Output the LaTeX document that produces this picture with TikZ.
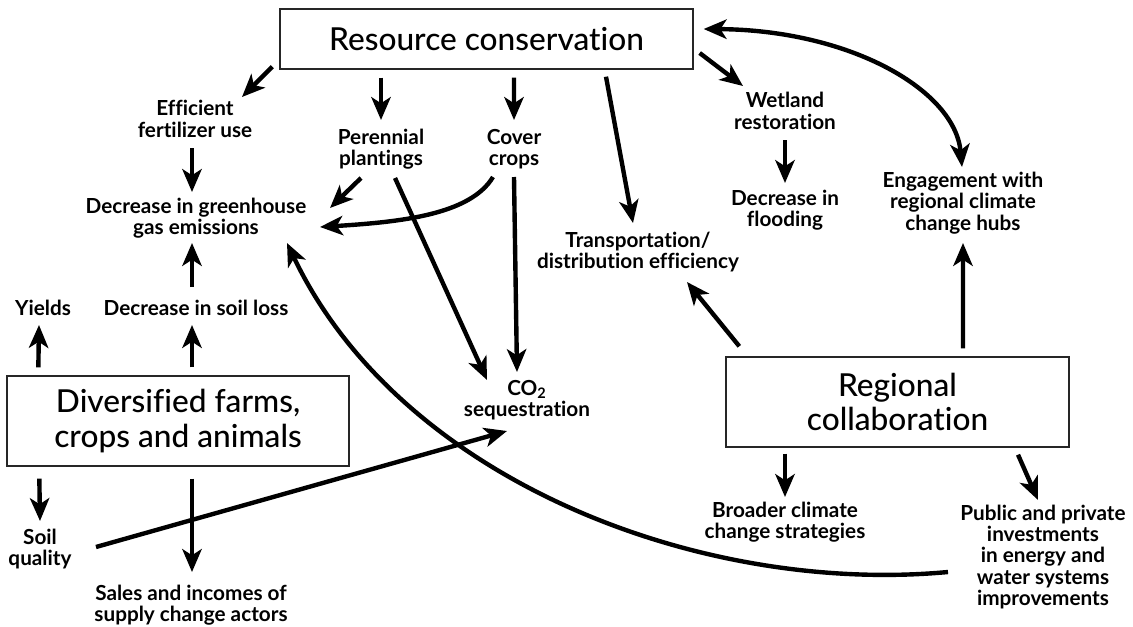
\documentclass[tikz,border=0pt]{standalone}
\usepackage{fontspec}
\setmainfont{Lato}[Ligatures=NoCommon]
\newfontfamily\labelsb{Lato}[Ligatures=NoCommon,UprightFont=* Bold]
\IfFontExistsTF{Lato Medium}{\newfontfamily\boxmd{Lato Medium}[Ligatures=NoCommon]}{\newcommand{\boxmd}{}}
\usetikzlibrary{arrows.meta}

\begin{document}
\begin{tikzpicture}[x=0.02cm,y=-0.02cm,>={Stealth[length=13pt,width=11pt,inset=3.5pt]},line width=2.5pt,
    main node/.style={draw=black!85,line width=0.8pt,align=center,inner sep=0pt,font=\boxmd\fontsize{18}{19.5}\selectfont},
    small node/.style={align=center,inner sep=0pt,font=\labelsb\fontsize{11.8}{12.2}\selectfont}]
  \useasboundingbox (0,0) rectangle (1133,626);

  % boxes
  \node[main node,minimum width=8.26cm,minimum height=1.2cm] (rc) at (486.5,39) {Resource conservation};
  \node[main node,minimum width=6.84cm,minimum height=1.8cm] (df) at (178,421) {Diversified farms,\\crops and animals};
  \node[main node,minimum width=6.86cm,minimum height=1.8cm] (reg) at (897.5,402) {Regional\\collaboration};

  % labels
  \node[small node] (eff) at (195,119) {Efficient\\fertilizer use};
  \node[small node] (ghg) at (196,218) {Decrease in greenhouse\\gas emissions};
  \node[small node] (per) at (381,149) {Perennial\\plantings};
  \node[small node] (cov) at (514,149) {Cover\\crops};
  \node[small node] (co2) at (527,400) {CO\textsubscript{2}\\sequestration};
  \node[small node] (trans) at (638,252) {Transportation/\\distribution efficiency};
  \node[small node] (wet) at (785,111) {Wetland\\restoration};
  \node[small node] (flood) at (785,210) {Decrease in\\flooding};
  \node[small node] (hubs) at (963,203) {Engagement with\\regional climate\\change hubs};
  \node[small node] (yields) at (43,308) {Yields};
  \node[small node] (soil) at (196,308) {Decrease in soil loss};
  \node[small node] (squal) at (40,549) {Soil\\quality};
  \node[small node] (sales) at (191,605) {Sales and incomes of\\supply change actors};
  \node[small node] (broad) at (785,522) {Broader climate\\change strategies};
  \node[small node] (invest) at (1043,557) {Public and private\\investments\\in energy and\\water systems\\improvements};

  % resource conservation
  \path[->] ([shift={(-7,-3)}]rc.south west) edge ([shift={(47,-22)}]eff.center);
  \path[->] ([shift={(-105.5,8)}]rc.south) edge ([shift={(0,-29)}]per.center);
  \path[->] ([shift={(27.5,8)}]rc.south) edge ([shift={(0,-29)}]cov.center);
  \path[->] ([shift={(119.5,7)}]rc.south) edge ([shift={(-5,-29)}]trans.center);
  \path[->] ([shift={(6,14)}]rc.east) edge ([shift={(-42,-25)}]wet.center);
  \draw[<->] ([shift={(10,-10)}]rc.east) .. controls (850,30) and (955,90) .. ([shift={(-1,-36)}]hubs.center);

  \path[->] ([shift={(-3,29)}]eff.center) edge ([shift={(-4,-26)}]ghg.center);
  \path[->] ([shift={(-20,29)}]per.center) edge ([shift={(134,-10)}]ghg.center);
  \path[->] ([shift={(14,29)}]per.center) edge ([shift={(-40,-20)}]co2.center);
  \path[->] ([shift={(0,28)}]cov.center) edge ([shift={(-10,-28)}]co2.center);
  \draw[->] ([shift={(-21,28)}]cov.center) .. controls (470,215) and (400,222) .. ([shift={(124,9)}]ghg.center);
  \path[->] ([shift={(0,29)}]wet.center) edge ([shift={(0,-27)}]flood.center);

  % diversified farms
  \path[->] ([shift={(32,-8)}]df.north west) edge ([shift={(-4,17)}]yields.center);
  \path[->] ([shift={(14,-8)}]df.north) edge ([shift={(-4,17)}]soil.center);
  \path[->] ([shift={(-4,-21)}]soil.center) edge ([shift={(-4,25)}]ghg.center);
  \path[->] ([shift={(33,12)}]df.south west) edge ([shift={(0,-28)}]squal.center);
  \path[->] ([shift={(14,12)}]df.south) edge ([shift={(1,-33)}]sales.center);
  \path[->] ([shift={(56,-2)}]squal.center) edge ([shift={(-20,31)}]co2.center);

  % regional collaboration
  \path[->] ([shift={(65.5,-8)}]reg.north) edge ([shift={(0,40)}]hubs.center);
  \path[->] ([shift={(14,-10)}]reg.north west) edge ([shift={(49,30)}]trans.center);
  \path[->] ([shift={(-112.5,6)}]reg.south) edge ([shift={(0,-25)}]broad.center);
  \path[->] ([shift={(120.5,7)}]reg.south) edge ([shift={(-5,-57)}]invest.center);
  \draw[->] ([shift={(-95,15)}]invest.center) .. controls (700,595) and (400,480) .. ([shift={(91,25)}]ghg.center);
\end{tikzpicture}
\end{document}
